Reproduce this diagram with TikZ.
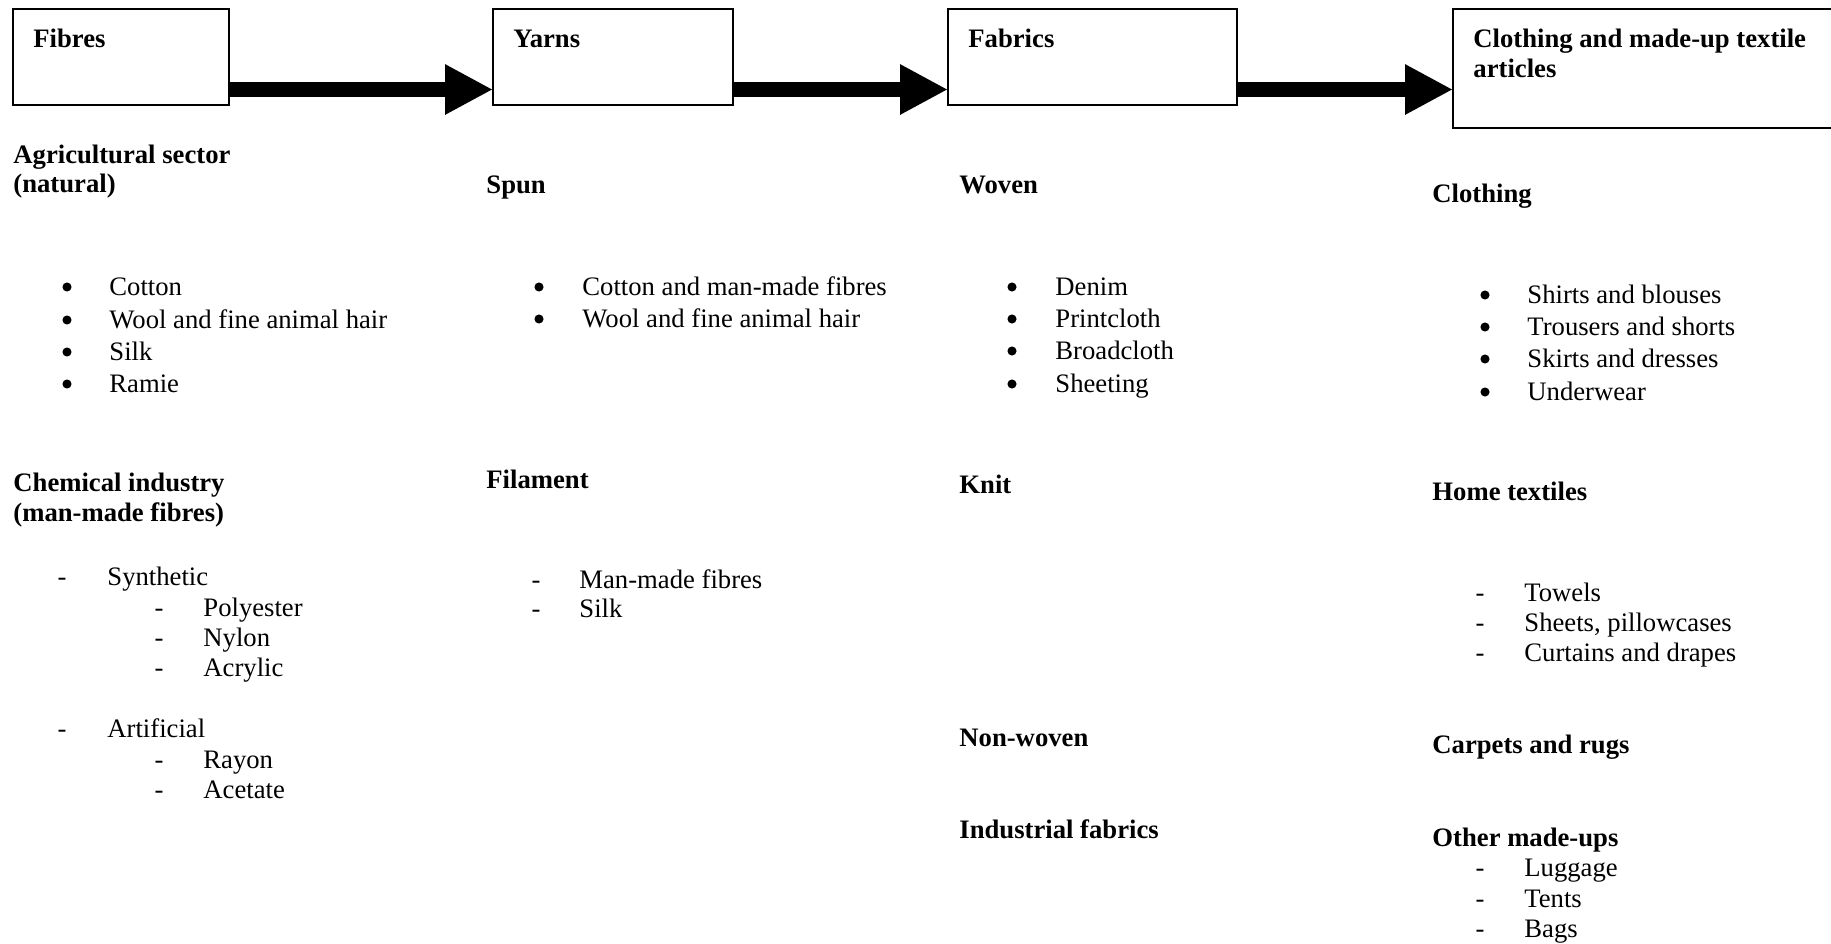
\documentclass[tikz,border=0pt]{standalone}
\usepackage{fontspec}
\setmainfont{Liberation Serif}
\usetikzlibrary{arrows.meta}
\begin{document}
\begin{tikzpicture}[x=0.45pt,y=-0.45pt,
  txt/.style={anchor=base west, inner sep=0pt, font=\fontsize{12}{14}\selectfont},
  hd/.style={anchor=base west, inner sep=0pt, font=\fontsize{12}{14}\selectfont\bfseries},
  boxstyle/.style={draw, line width=0.72pt, inner sep=0pt, outer sep=0pt, anchor=north west},
  bul/.style={circle, fill, inner sep=0pt, minimum size=4.1pt},
  dsh/.style={anchor=base, inner sep=0pt, font=\fontsize{12}{14}\selectfont},
  blockarrow/.style={line width=6.75pt, -{Triangle[length=21.6pt, width=21.15pt]}}]
\useasboundingbox (0,0) rectangle (1831,944);

% header boxes
\node[boxstyle, minimum width=216*0.45pt, minimum height=96*0.45pt] (b1) at (13,9) {};
\node[boxstyle, minimum width=240*0.45pt, minimum height=96*0.45pt] (b2) at (493,9) {};
\node[boxstyle, minimum width=289*0.45pt, minimum height=96*0.45pt] (b3) at (948,9) {};
\node[boxstyle, minimum width=420*0.45pt, minimum height=119*0.45pt] (b4) at (1453,9) {};

\node[hd] (t1) at (33,48) {Fibres};
\node[hd] (t2) at (513,48) {Yarns};
\node[hd] (t3) at (968,48) {Fabrics};
\node[hd] (t4a) at (1473,48) {Clothing and made-up textile};
\node[hd] (t4b) at (1473,77) {articles};

% block arrows
\coordinate (ay) at (0,89.5);
\draw[blockarrow] (b1.east |- ay) -- (b2.west |- ay);
\draw[blockarrow] (b2.east |- ay) -- (b3.west |- ay);
\draw[blockarrow] (b3.east |- ay) -- (b4.west |- ay);

% column 1
\node[hd] (c1h1a) at (13,163) {Agricultural sector};
\node[hd] (c1h1b) at (13,192) {(natural)};
\node[bul] (c1b1) at (67,287) {}; \node[txt] (c1i1) at (109,295) {Cotton};
\node[bul] (c1b2) at (67,320) {}; \node[txt] (c1i2) at (109,328) {Wool and fine animal hair};
\node[bul] (c1b3) at (67,352) {}; \node[txt] (c1i3) at (109,360) {Silk};
\node[bul] (c1b4) at (67,384) {}; \node[txt] (c1i4) at (109,392) {Ramie};
\node[hd] (c1h2a) at (13,491) {Chemical industry};
\node[hd] (c1h2b) at (13,521) {(man-made fibres)};
\node[dsh] (c1d1) at (62,585) {-}; \node[txt] (c1s1) at (107,585) {Synthetic};
\node[dsh] (c1d2) at (159,616) {-}; \node[txt] (c1s2) at (203,616) {Polyester};
\node[dsh] (c1d3) at (159,646) {-}; \node[txt] (c1s3) at (203,646) {Nylon};
\node[dsh] (c1d4) at (159,676) {-}; \node[txt] (c1s4) at (203,676) {Acrylic};
\node[dsh] (c1d5) at (62,737) {-}; \node[txt] (c1s5) at (107,737) {Artificial};
\node[dsh] (c1d6) at (159,768) {-}; \node[txt] (c1s6) at (203,768) {Rayon};
\node[dsh] (c1d7) at (159,798) {-}; \node[txt] (c1s7) at (203,798) {Acetate};

% column 2
\node[hd] (c2h1) at (486,193) {Spun};
\node[bul] (c2b1) at (539,287) {}; \node[txt] (c2i1) at (582,295) {Cotton and man-made fibres};
\node[bul] (c2b2) at (539,319) {}; \node[txt] (c2i2) at (582,327) {Wool and fine animal hair};
\node[hd] (c2h2) at (486,488) {Filament};
\node[dsh] (c2d1) at (536,588) {-}; \node[txt] (c2s1) at (579,588) {Man-made fibres};
\node[dsh] (c2d2) at (536,617) {-}; \node[txt] (c2s2) at (579,617) {Silk};

% column 3
\node[hd] (c3h1) at (959,193) {Woven};
\node[bul] (c3b1) at (1012,287) {}; \node[txt] (c3i1) at (1055,295) {Denim};
\node[bul] (c3b2) at (1012,319) {}; \node[txt] (c3i2) at (1055,327) {Printcloth};
\node[bul] (c3b3) at (1012,351) {}; \node[txt] (c3i3) at (1055,359) {Broadcloth};
\node[bul] (c3b4) at (1012,384) {}; \node[txt] (c3i4) at (1055,392) {Sheeting};
\node[hd] (c3h2) at (959,493) {Knit};
\node[hd] (c3h3) at (959,746) {Non-woven};
\node[hd] (c3h4) at (959,838) {Industrial fabrics};

% column 4
\node[hd] (c4h1) at (1432,202) {Clothing};
\node[bul] (c4b1) at (1485,295) {}; \node[txt] (c4i1) at (1527,303) {Shirts and blouses};
\node[bul] (c4b2) at (1485,327) {}; \node[txt] (c4i2) at (1527,335) {Trousers and shorts};
\node[bul] (c4b3) at (1485,359) {}; \node[txt] (c4i3) at (1527,367) {Skirts and dresses};
\node[bul] (c4b4) at (1485,392) {}; \node[txt] (c4i4) at (1527,400) {Underwear};
\node[hd] (c4h2) at (1432,500) {Home textiles};
\node[dsh] (c4d1) at (1480,601) {-}; \node[txt] (c4s1) at (1524,601) {Towels};
\node[dsh] (c4d2) at (1480,631) {-}; \node[txt] (c4s2) at (1524,631) {Sheets, pillowcases};
\node[dsh] (c4d3) at (1480,661) {-}; \node[txt] (c4s3) at (1524,661) {Curtains and drapes};
\node[hd] (c4h3) at (1432,753) {Carpets and rugs};
\node[hd] (c4h4) at (1432,846) {Other made-ups};
\node[dsh] (c4d4) at (1480,876) {-}; \node[txt] (c4s4) at (1524,876) {Luggage};
\node[dsh] (c4d5) at (1480,907) {-}; \node[txt] (c4s5) at (1524,907) {Tents};
\node[dsh] (c4d6) at (1480,937) {-}; \node[txt] (c4s6) at (1524,937) {Bags};
\end{tikzpicture}
\end{document}
